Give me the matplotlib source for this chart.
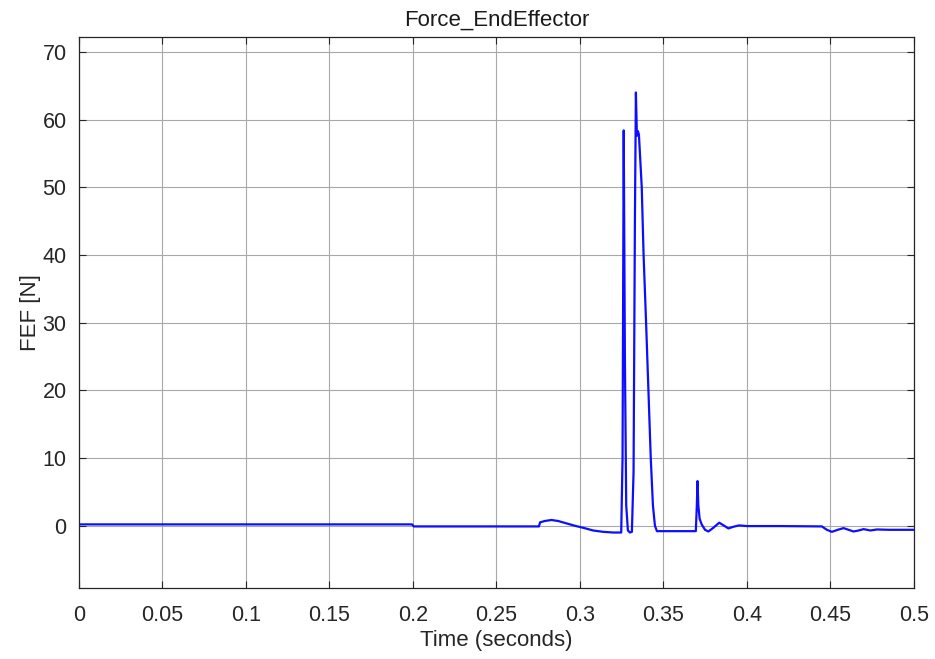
import matplotlib.pyplot as plt
import numpy as np

time_s = [0.0, 0.1995, 0.2005, 0.2755, 0.2762, 0.2790, 0.2830, 0.2870, 0.2920,
          0.2970, 0.3020, 0.3080, 0.3140, 0.3200, 0.3248, 0.3256, 0.3263, 0.3270,
          0.3278, 0.3288, 0.3300, 0.3312, 0.3322, 0.3330, 0.3336, 0.3342, 0.3348,
          0.3354, 0.3371, 0.3382, 0.3397, 0.3411, 0.3425, 0.3438, 0.3450, 0.3462,
          0.3695, 0.3701, 0.3705, 0.3710, 0.3718, 0.3730, 0.3750, 0.3770, 0.3800,
          0.3835, 0.3865, 0.3890, 0.3920, 0.3955, 0.4000, 0.4200, 0.4450, 0.4480,
          0.4510, 0.4545, 0.4580, 0.4610, 0.4640, 0.4670, 0.4700, 0.4740, 0.4780,
          0.4850, 0.5000]
force_n = [0.2, 0.2, -0.1, -0.1, 0.5, 0.7, 0.85, 0.7, 0.35,
           0.0, -0.3, -0.7, -0.9, -1.0, -1.0, 10.0, 58.4, 25.0,
           3.0, -0.7, -1.0, -0.9, 8.0, 45.0, 64.0, 57.6, 58.3,
           57.8, 50.0, 40.0, 30.0, 20.0, 10.0, 3.0, 0.0, -0.8,
           -0.8, 3.0, 6.6, 3.0, 1.0, 0.2, -0.6, -0.85, -0.3,
           0.45, 0.0, -0.4, -0.15, 0.05, -0.05, -0.05, -0.1, -0.6,
           -0.9, -0.6, -0.35, -0.6, -0.85, -0.7, -0.5, -0.7, -0.55,
           -0.6, -0.6]

x_ticks = [0, 0.05, 0.1, 0.15, 0.2, 0.25, 0.3, 0.35, 0.4, 0.45, 0.5]
x_tick_labels = ['0', '0.05', '0.1', '0.15', '0.2', '0.25', '0.3', '0.35', '0.4', '0.45', '0.5']
y_ticks = [0, 10, 20, 30, 40, 50, 60, 70]


def main() -> None:
    plt.rcParams['font.family'] = ['Liberation Sans', 'DejaVu Sans']

    fig = plt.figure(figsize=(9.35, 6.59), dpi=100)
    ax = fig.add_axes([0.0845, 0.1077, 0.8927, 0.8362])

    ax.plot(time_s, force_n, color=(0.05, 0.05, 1.0), linewidth=1.6)

    ax.set_xlim(0, 0.5)
    ax.set_ylim(-9.2, 72.2)
    ax.set_xticks(x_ticks)
    ax.set_xticklabels(x_tick_labels)
    ax.set_yticks(y_ticks)

    ax.grid(True, color='#a8a8a8', linewidth=0.8)
    ax.set_axisbelow(True)
    for sp in ax.spines.values():
        sp.set_color('#262626')
        sp.set_linewidth(0.9)
    ax.tick_params(direction='in', top=True, right=True, length=5,
                   width=0.8, color='#262626', labelcolor='#262626',
                   labelsize=15.5)
    ax.tick_params(axis='x', pad=12)
    ax.tick_params(axis='y', pad=9)

    ax.set_xlabel('Time (seconds)', fontsize=16, color='#262626', labelpad=3)
    ax.set_ylabel('FEF [N]', fontsize=16, color='#262626', labelpad=1)
    ax.set_title('Force_EndEffector', fontsize=16, color='#1a1a1a', pad=8)

    fig.savefig('out.png', dpi=100, facecolor='white')


if __name__ == '__main__':
    main()
